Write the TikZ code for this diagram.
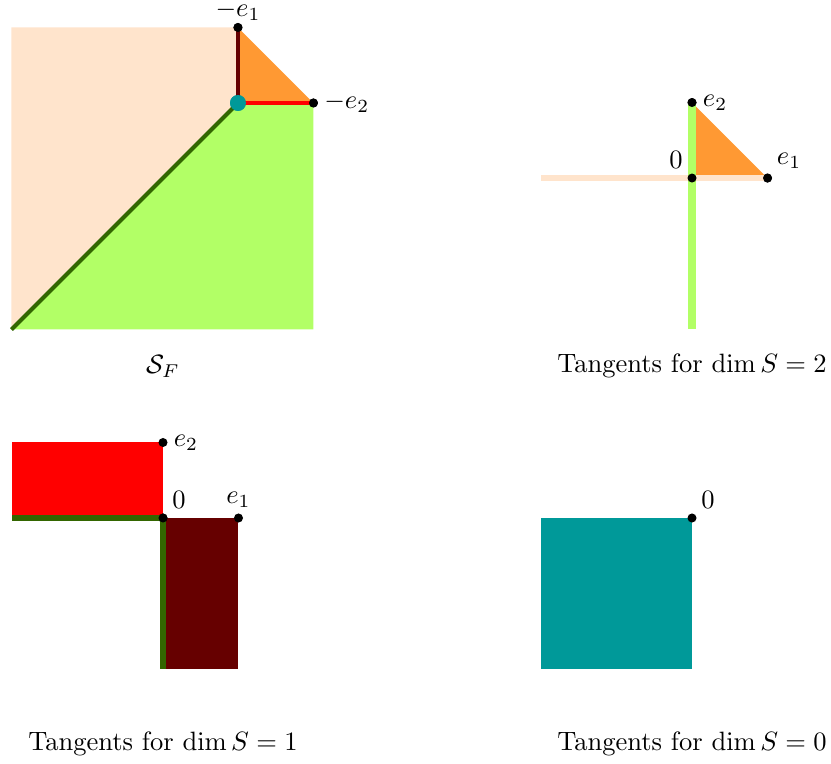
\documentclass[tikz,border=0pt]{standalone}
\definecolor{peach}{RGB}{255,228,204}
\definecolor{orng}{RGB}{255,153,51}
\definecolor{lgreen}{RGB}{178,255,102}
\definecolor{dgreen}{RGB}{51,102,0}
\definecolor{dred}{RGB}{102,0,0}
\definecolor{tealc}{RGB}{0,153,153}
\tikzset{
  dot/.style={circle,fill=black,inner sep=0pt,minimum size=3.4pt},
  tealdot/.style={circle,fill=tealc,inner sep=0pt,minimum size=6pt},
  lbl/.style={inner sep=2pt},
  captxt/.style={inner sep=0pt}
}
\begin{document}
\begin{tikzpicture}[x=1cm,y=1cm]
\useasboundingbox (0,0) rectangle (11.007,-10.119);
% Panel 1
\begin{scope}[shift={(3.152,-1.364)}]
\fill[peach] (-3,-3) -- (-3,1) -- (0,1) -- (0,0) -- cycle;
\fill[lgreen] (-3,-3) -- (0,0) -- (1,0) -- (1,-3) -- cycle;
\fill[orng] (0,0) -- (0,1) -- (1,0) -- cycle;
\coordinate (p1c) at (-3,-3);
\node[tealdot] (p1o) at (0,0) {};
\node[dot] (p1a) at (0,1) {};
\node[dot] (p1b) at (1,0) {};
\draw[dred, line width=1.3pt] (p1o.center) -- (p1a.center);
\draw[red, line width=1.3pt] (p1o.center) -- (p1b.center);
\draw[dgreen, line width=1.5pt] (p1c) -- (p1o.center);
\node[tealdot] at (p1o) {};
\node[dot] at (p1a) {};
\node[dot] at (p1b) {};
\node[inner sep=0pt,anchor=south,yshift=0.6pt] (l1a) at (p1a.north) {$-e_1$};
\node[lbl,anchor=west] (l1b) at (p1b.east) {$-e_2$};
\end{scope}
\node[captxt] (c1) at (2.159,-4.848) {$\mathcal{S}_F$};
% Panel 2
\begin{scope}[shift={(9.166,-2.358)}]
\fill[orng] (0,0) -- (0,1) -- (1,0) -- cycle;
\coordinate (p2l) at (-2,0);
\coordinate (p2d) at (0,-2);
\node[dot] (p2o) at (0,0) {};
\node[dot] (p2a) at (0,1) {};
\node[dot] (p2b) at (1,0) {};
\draw[peach, line width=2.4pt] (p2l) -- (p2b.center);
\draw[lgreen, line width=2.8pt] (p2d) -- (p2a.center);
\node[dot] at (p2o) {};
\node[dot] at (p2a) {};
\node[dot] at (p2b) {};
\node[lbl,anchor=west] (l2a) at (p2a.east) {$e_2$};
\node[lbl,anchor=south east] (l2o) at (p2o.north west) {$0$};
\node[lbl,anchor=south west] (l2b) at (p2b.north east) {$e_1$};
\end{scope}
\node[captxt] (c2) at (9.166,-4.848) {Tangents for $\dim S=2$};
% Panel 3
\begin{scope}[shift={(2.159,-6.861)}]
\fill[red] (-2,0) rectangle (0,1);
\fill[dred] (0,-2) rectangle (1,0);
\coordinate (p3l) at (-2,0);
\coordinate (p3d) at (0,-2);
\node[dot] (p3o) at (0,0) {};
\node[dot] (p3a) at (0,1) {};
\node[dot] (p3b) at (1,0) {};
\draw[dgreen, line width=2.6pt] (p3l) -- (p3o.center) -- (p3d);
\node[dot] at (p3o) {};
\node[lbl,anchor=west] (l3a) at (p3a.east) {$e_2$};
\node[lbl,anchor=south west] (l3o) at (p3o.north east) {$0$};
\node[lbl,anchor=south] (l3b) at (p3b.north) {$e_1$};
\end{scope}
\node[captxt] (c3) at (2.159,-9.854) {Tangents for $\dim S=1$};
% Panel 4
\begin{scope}[shift={(9.166,-6.861)}]
\fill[tealc] (-2,-2) rectangle (0,0);
\node[dot] (p4o) at (0,0) {};
\node[lbl,anchor=south west] (l4o) at (p4o.north east) {$0$};
\end{scope}
\node[captxt] (c4) at (9.166,-9.854) {Tangents for $\dim S=0$};
\end{tikzpicture}
\end{document}
